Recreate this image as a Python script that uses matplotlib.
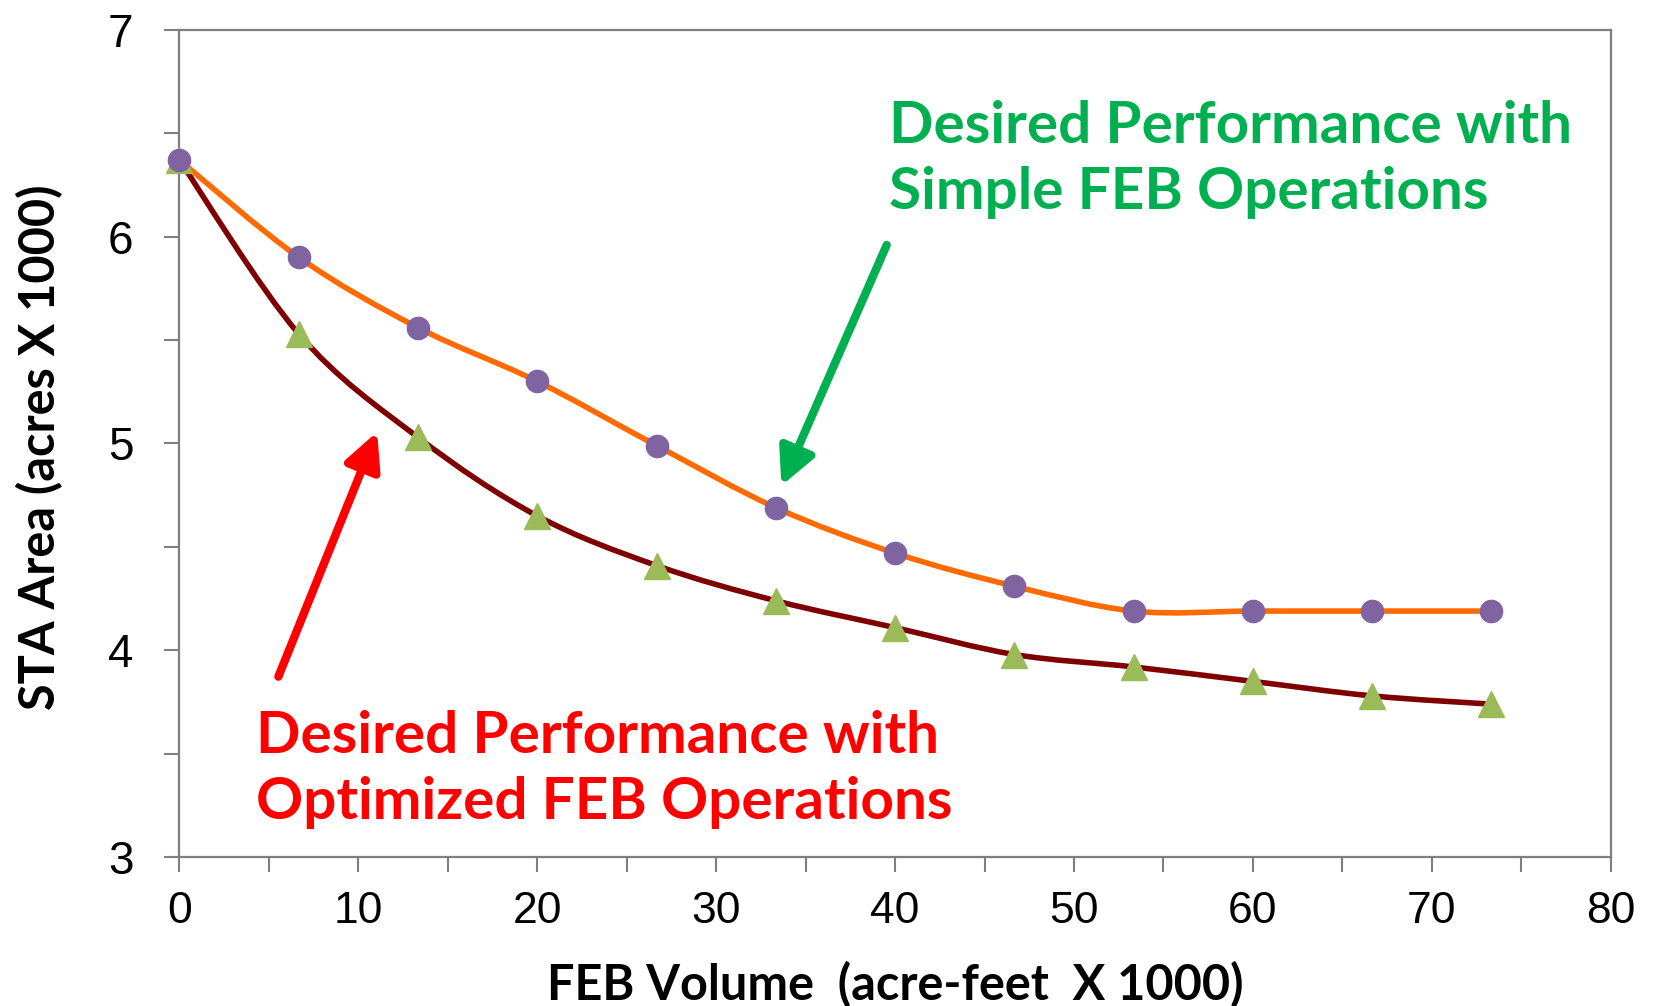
import numpy as np
import matplotlib
matplotlib.use("Agg")
import matplotlib.pyplot as plt
from matplotlib.path import Path
from matplotlib.patches import PathPatch
from matplotlib.ticker import MultipleLocator

# ---- data ----
feb_volume = [0, 6.67, 13.33, 20, 26.67, 33.33, 40, 46.67, 53.33, 60, 66.67, 73.33]
sta_simple = [6.37, 5.90, 5.56, 5.30, 4.99, 4.69, 4.47, 4.31, 4.19, 4.19, 4.19, 4.19]
sta_optimized = [6.37, 5.53, 5.03, 4.65, 4.41, 4.24, 4.11, 3.98, 3.92, 3.85, 3.78, 3.74]
x_ticks = [0, 10, 20, 30, 40, 50, 60, 70, 80]
y_ticks = [3, 4, 5, 6, 7]
xlabel = "FEB Volume  (acre-feet  X 1000)"
ylabel = "STA Area (acres X 1000)"
label_simple = "Desired Performance with\nSimple FEB Operations"
label_opt = "Desired Performance with\nOptimized FEB Operations"


def smooth_path(xs, ys):
    """Bezier path through points (Excel-like smoothed line)."""
    xs = np.asarray(xs, float)
    ys = np.asarray(ys, float)
    n = len(xs)
    verts = [(xs[0], ys[0])]
    codes = [Path.MOVETO]
    for i in range(n - 1):
        p0 = np.array([xs[max(i - 1, 0)], ys[max(i - 1, 0)]])
        p1 = np.array([xs[i], ys[i]])
        p2 = np.array([xs[i + 1], ys[i + 1]])
        p3 = np.array([xs[min(i + 2, n - 1)], ys[min(i + 2, n - 1)]])
        c1 = p1 + (p2 - p0) / 6.0
        c2 = p2 - (p3 - p1) / 6.0
        verts += [tuple(c1), tuple(c2), tuple(p2)]
        codes += [Path.CURVE4] * 3
    return Path(verts, codes)


fig = plt.figure(figsize=(16.54, 10.06), dpi=100)
ax = fig.add_axes([0.1084, 0.1478, 0.8655, 0.8228])

ax.add_patch(PathPatch(smooth_path(feb_volume, sta_optimized), fill=False,
                       edgecolor="#7F0000", lw=4.0, zorder=2, capstyle="round"))
ax.add_patch(PathPatch(smooth_path(feb_volume, sta_simple), fill=False,
                       edgecolor="#FF6A00", lw=4.0, zorder=3, capstyle="round"))
ax.plot(feb_volume, sta_optimized, linestyle="none", marker="^", ms=19,
        color="#9BBB59", mec="#9BBB59", zorder=4, clip_on=False)
ax.plot(feb_volume, sta_simple, linestyle="none", marker="o", ms=16,
        color="#8064A2", mec="#8064A2", zorder=5, clip_on=False)

ax.set_xlim(0, 80)
ax.set_ylim(3, 7)
ax.set_xticks(x_ticks)
ax.set_yticks(y_ticks)
ax.xaxis.set_minor_locator(MultipleLocator(5))
ax.yaxis.set_minor_locator(MultipleLocator(0.5))
for s in ax.spines.values():
    s.set_color("#7F7F7F")
    s.set_linewidth(1.6)
ax.tick_params(which="both", direction="out", length=11, width=1.5, color="#7F7F7F")
ax.tick_params(axis="x", which="major", labelsize=32, pad=13, labelcolor="#000000")
ax.tick_params(axis="y", which="major", labelsize=33, pad=22, labelcolor="#000000")
for t in ax.get_xticklabels() + ax.get_yticklabels():
    t.set_family("Liberation Sans")

ax.set_xlabel(xlabel, family="Lato", fontweight="bold", fontsize=35, labelpad=21)
fig.text(0.024, 0.555, ylabel, family="Lato", fontweight="bold", fontsize=35,
         rotation=90, ha="center", va="center")

fig.text(0.5376, 0.8417, label_simple, family="Lato", fontweight="bold", fontsize=42,
         color="#00B050", ha="left", va="center", linespacing=1.3)
fig.text(0.155, 0.2348, label_opt, family="Lato", fontweight="bold", fontsize=42,
         color="#FF0000", ha="left", va="center", linespacing=1.3)

arrow_style = "-|>,head_length=2.2,head_width=1.1"
ax.annotate("", xy=(0.4724, 0.5172), xycoords="figure fraction",
            xytext=(0.5361, 0.7565), textcoords="figure fraction",
            arrowprops=dict(arrowstyle=arrow_style, color="#00B050", lw=6,
                            shrinkA=0, shrinkB=0))
ax.annotate("", xy=(0.2280, 0.5707), xycoords="figure fraction",
            xytext=(0.1683, 0.3274), textcoords="figure fraction",
            arrowprops=dict(arrowstyle=arrow_style, color="#FF0000", lw=6,
                            shrinkA=0, shrinkB=0))

fig.savefig("out.png", dpi=100)
